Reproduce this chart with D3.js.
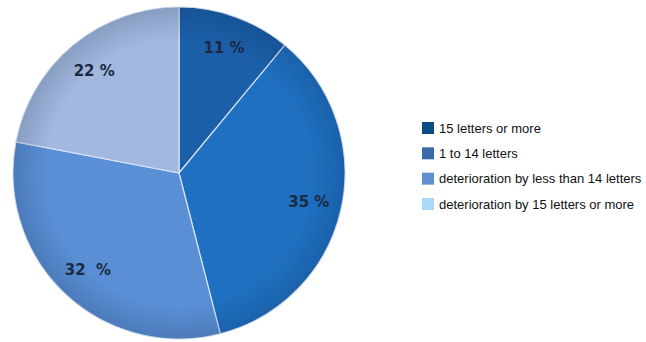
<!DOCTYPE html>
<html lang="en">
<head>
    <meta charset="UTF-8">
    <title>Letters gained / lost</title>
    <script src="https://d3js.org/d3.v7.min.js"></script>
    <style>
        body { margin: 0; background: #fff; }
    </style>
</head>
<body>
    <svg id="pieChart" width="646" height="342"></svg>

    <script>
        // chart data
        const categories = ['15 letters or more', '1 to 14 letters', 'deterioration by less than 14 letters', 'deterioration by 15 letters or more'];
        const values = [11, 35, 32, 22];
        const sliceLabels = ['11 %', '35 %', '32  %', '22 %'];
        const sliceColors = ['#1b5fa9', '#1f70c1', '#5a8fd5', '#a2b8de'];
        const legendColors = ['#0f4c86', '#3a6aa8', '#5f8fcf', '#aad8fb'];

        const svg = d3.select('#pieChart');
        const cx = 179, cy = 173, radius = 166;

        const defs = svg.append('defs');
        // darker rim towards the outer edge
        const rim = defs.append('radialGradient')
            .attr('id', 'rim')
            .attr('cx', '50%').attr('cy', '50%').attr('r', '50%');
        rim.append('stop').attr('offset', '80%').attr('stop-color', '#001030').attr('stop-opacity', 0);
        rim.append('stop').attr('offset', '100%').attr('stop-color', '#001030').attr('stop-opacity', 0.16);

        const pie = d3.pie().sort(null).value(d => d);
        const arcs = pie(values);

        const arc = d3.arc().innerRadius(0).outerRadius(radius);
        const labelArc = d3.arc().innerRadius(133).outerRadius(133);

        const g = svg.append('g').attr('transform', `translate(${cx},${cy})`);

        g.selectAll('.slice')
            .data(arcs)
            .enter().append('path')
            .attr('class', 'slice')
            .attr('d', arc)
            .attr('fill', (d, i) => sliceColors[i])
            .attr('stroke', '#d6e3f4')
            .attr('stroke-width', 1.2);

        // shading overlay
        g.append('circle')
            .attr('r', radius)
            .attr('fill', 'url(#rim)')
            .attr('pointer-events', 'none');

        g.selectAll('.slice-label')
            .data(arcs)
            .enter().append('text')
            .attr('class', 'slice-label')
            .attr('transform', d => `translate(${labelArc.centroid(d)})`)
            .attr('dy', '0.35em')
            .style('text-anchor', 'middle')
            .style('white-space', 'pre')
            .style('font-family', 'DejaVu Sans, sans-serif')
            .style('font-weight', 'bold')
            .style('font-size', '15px')
            .style('fill', '#1b2a42')
            .text((d, i) => sliceLabels[i]);

        // legend
        const legendY = d3.scalePoint()
            .domain(categories)
            .range([128, 204]);

        const legend = svg.append('g').attr('transform', 'translate(422,0)');

        const item = legend.selectAll('.legend-item')
            .data(categories)
            .enter().append('g')
            .attr('class', 'legend-item')
            .attr('transform', d => `translate(0,${legendY(d)})`);

        item.append('rect')
            .attr('x', 0)
            .attr('y', -6)
            .attr('width', 12)
            .attr('height', 12)
            .style('fill', (d, i) => legendColors[i]);

        item.append('text')
            .attr('x', 17)
            .attr('y', 0)
            .attr('dy', '0.35em')
            .style('font-family', 'Liberation Sans, Arial, sans-serif')
            .style('font-size', '13px')
            .style('fill', '#111')
            .text(d => d);
    </script>
</body>
</html>
